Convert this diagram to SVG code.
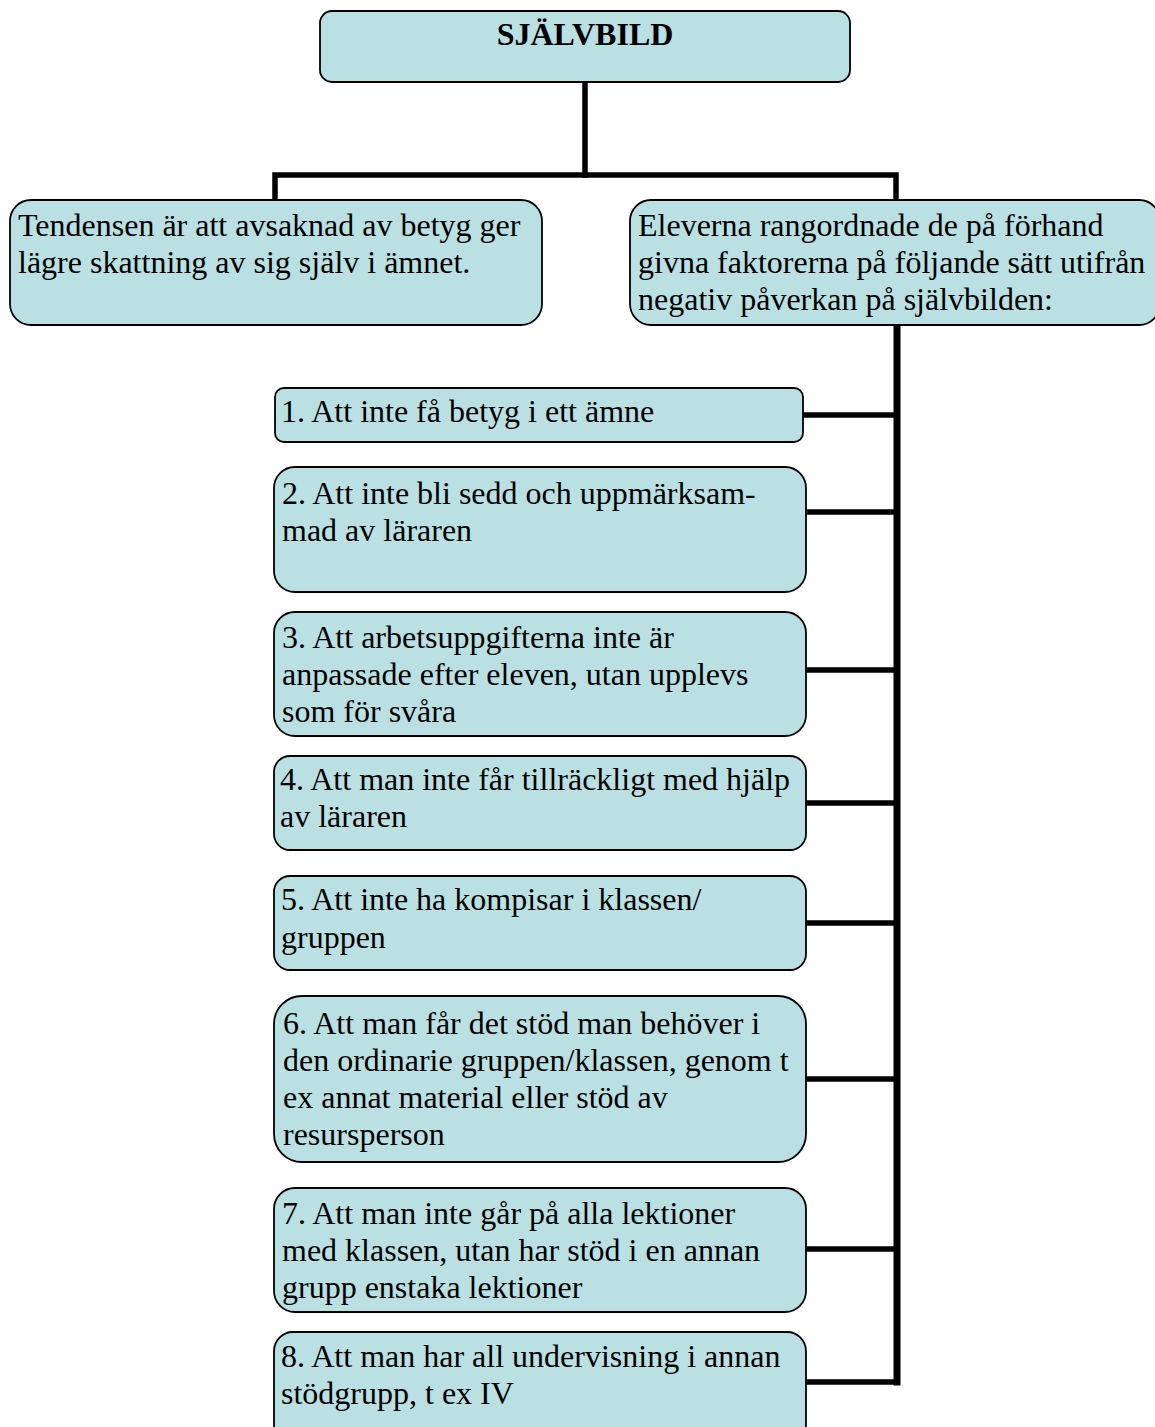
<svg xmlns="http://www.w3.org/2000/svg" width="1155" height="1427" viewBox="0 0 1155 1427">
<style>
.box{fill:#BBE0E3;stroke:#000;stroke-width:1.8}
.t{font-family:"Liberation Serif","Times New Roman",serif;font-size:32px;fill:#000}
.b{font-weight:bold}
.c{fill:none;stroke:#000;stroke-width:5.5;stroke-linecap:square}
.v{fill:none;stroke:#000;stroke-width:7;stroke-linecap:square}
</style>
<rect x="0" y="0" width="1155" height="1427" fill="#fff"/>
<g id="connectors">
<polyline class="c" points="585,84 585,175"/>
<polyline class="c" points="275,198 275,175 896,175 896,198"/>
<line class="v" x1="897" y1="327" x2="897" y2="1382"/>
<line class="c" x1="807" y1="1382" x2="897" y2="1382"/>
<line class="c" x1="804" y1="415" x2="895" y2="415"/>
<line class="c" x1="807" y1="512" x2="895" y2="512"/>
<line class="c" x1="807" y1="670" x2="895" y2="670"/>
<line class="c" x1="807" y1="803" x2="895" y2="803"/>
<line class="c" x1="807" y1="923" x2="895" y2="923"/>
<line class="c" x1="807" y1="1079" x2="895" y2="1079"/>
<line class="c" x1="807" y1="1249" x2="895" y2="1249"/>
</g>
<g id="n0">
<rect class="box" x="320" y="11" width="530" height="71" rx="12"/>
<text class="t b" x="585" y="45" text-anchor="middle">SJÄLVBILD</text>
</g>
<g id="n1">
<rect class="box" x="10" y="200" width="532" height="125" rx="21"/>
<text class="t" x="18" y="236">Tendensen är att avsaknad av betyg ger</text>
<text class="t" x="18" y="273">lägre skattning av sig själv i ämnet.</text>
</g>
<g id="n2">
<rect class="box" x="630" y="200" width="530" height="125" rx="21"/>
<text class="t" x="638" y="236">Eleverna rangordnade de på förhand</text>
<text class="t" x="638" y="273">givna faktorerna på följande sätt utifrån</text>
<text class="t" x="638" y="310">negativ påverkan på självbilden:</text>
</g>
<g id="n3">
<rect class="box" x="275" y="388" width="528" height="54" rx="9"/>
<text class="t" x="281" y="422">1. Att inte få betyg i ett ämne</text>
</g>
<g id="n4">
<rect class="box" x="274" y="467" width="532" height="125" rx="21"/>
<text class="t" x="282" y="504">2. Att inte bli sedd och uppmärksam-</text>
<text class="t" x="282" y="541">mad av läraren</text>
</g>
<g id="n5">
<rect class="box" x="274" y="612" width="532" height="124" rx="21"/>
<text class="t" x="282" y="648">3. Att arbetsuppgifterna inte är</text>
<text class="t" x="282" y="685">anpassade efter eleven, utan upplevs</text>
<text class="t" x="282" y="722">som för svåra</text>
</g>
<g id="n6">
<rect class="box" x="274" y="756" width="532" height="94" rx="16"/>
<text class="t" x="280" y="790">4. Att man inte får tillräckligt med hjälp</text>
<text class="t" x="280" y="827">av läraren</text>
</g>
<g id="n7">
<rect class="box" x="274" y="876" width="532" height="94" rx="16"/>
<text class="t" x="281" y="910">5. Att inte ha kompisar i klassen/</text>
<text class="t" x="281" y="948">gruppen</text>
</g>
<g id="n8">
<rect class="box" x="274" y="996" width="532" height="166" rx="28"/>
<text class="t" x="283" y="1034">6. Att man får det stöd man behöver i</text>
<text class="t" x="283" y="1071">den ordinarie gruppen/klassen, genom t</text>
<text class="t" x="283" y="1108">ex annat material eller stöd av</text>
<text class="t" x="283" y="1145">resursperson</text>
</g>
<g id="n9">
<rect class="box" x="274" y="1188" width="532" height="124" rx="21"/>
<text class="t" x="282" y="1224">7. Att man inte går på alla lektioner</text>
<text class="t" x="282" y="1261">med klassen, utan har stöd i en annan</text>
<text class="t" x="282" y="1298">grupp enstaka lektioner</text>
</g>
<g id="n10">
<rect class="box" x="274" y="1332" width="532" height="112" rx="19"/>
<text class="t" x="281" y="1367">8. Att man har all undervisning i annan</text>
<text class="t" x="281" y="1404">stödgrupp, t ex IV</text>
</g>
</svg>
